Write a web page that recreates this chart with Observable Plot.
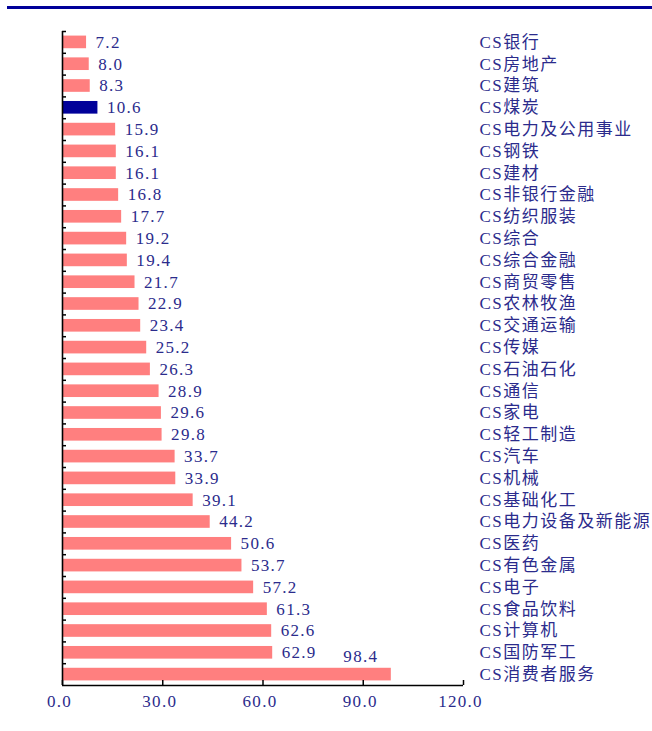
<!DOCTYPE html>
<html>
<head>
<meta charset="utf-8">
<script src="https://cdn.jsdelivr.net/npm/d3@7"></script>
<script src="https://cdn.jsdelivr.net/npm/@observablehq/plot@0.6"></script>
<style>
  html, body { margin: 0; padding: 0; background: #fff; overflow: hidden; }
  #wrap { position: relative; width: 652px; height: 731px; }
  #topline { position: absolute; top: 6px; left: 7px; right: 0; height: 3px; background: #000099; }
</style>
</head>
<body>
<div id="wrap"><div id="topline"></div><div id="chart"></div></div>
<script>
const categories = ["CS银行","CS房地产","CS建筑","CS煤炭","CS电力及公用事业","CS钢铁","CS建材","CS非银行金融","CS纺织服装","CS综合","CS综合金融","CS商贸零售","CS农林牧渔","CS交通运输","CS传媒","CS石油石化","CS通信","CS家电","CS轻工制造","CS汽车","CS机械","CS基础化工","CS电力设备及新能源","CS医药","CS有色金属","CS电子","CS食品饮料","CS计算机","CS国防军工","CS消费者服务"];
const values = [7.2,8.0,8.3,10.6,15.9,16.1,16.1,16.8,17.7,19.2,19.4,21.7,22.9,23.4,25.2,26.3,28.9,29.6,29.8,33.7,33.9,39.1,44.2,50.6,53.7,57.2,61.3,62.6,62.9,98.4];
const highlight = "CS煤炭";
const xTicks = [0, 30, 60, 90, 120];

const data = categories.map((name, i) => ({name, value: values[i]}));
const last = categories[categories.length - 1];

const W = 652, H = 731, mt = 31, mb = 46, ml = 62, mr = 189;
const innerH = H - mt - mb;
const step = innerH / categories.length;
const textColor = "#2b2b8c";
const pink = "#FF7F7F";
const navy = "#000099";
const font = "'Liberation Serif', 'Noto Sans CJK SC', serif";

const chart = Plot.plot({
  width: W, height: H,
  marginTop: mt, marginBottom: mb, marginLeft: ml, marginRight: mr,
  style: {fontFamily: font, fontSize: "16px", color: textColor, background: "transparent", overflow: "visible"},
  x: {domain: [xTicks[0], xTicks[xTicks.length - 1]], axis: null},
  y: {domain: categories, axis: null, paddingInner: 0.42, paddingOuter: 0.21, round: false},
  marks: [
    Plot.barX(data, {filter: d => d.name !== highlight, x: "value", y: "name", fill: pink}),
    Plot.barX(data, {filter: d => d.name === highlight, x: "value", y: "name", fill: navy}),
    // axis lines
    Plot.ruleX([xTicks[0]], {stroke: "#000", strokeWidth: 1.6}),
    Plot.ruleX(xTicks, {x: d => d, insetTop: innerH - 5, stroke: "#000", strokeWidth: 1.5}),
    Plot.ruleY([last], {x1: xTicks[0], x2: xTicks[xTicks.length - 1], dy: step / 2, stroke: "#000", strokeWidth: 1.6}),
    // y ticks at row boundaries
    Plot.ruleY(categories, {y: d => d, x1: xTicks[0], x2: xTicks[0], insetRight: -4, dy: -step / 2, stroke: "#000", strokeWidth: 1.5}),
    // x tick labels
    Plot.text(xTicks, {x: d => d, frameAnchor: "bottom", dy: 21, dx: -3, text: d => d.toFixed(1), fill: textColor, fontSize: 17, className: "num"}),
    // value labels
    Plot.text(data, {filter: d => d.name !== last, x: "value", y: "name", text: d => d.value.toFixed(1), textAnchor: "start", dx: 9, fill: textColor, fontSize: 17, className: "num"}),
    Plot.text(data, {filter: d => d.name === last, x: "value", y: "name", text: d => d.value.toFixed(1), textAnchor: "end", dx: -13, dy: -18, fill: textColor, fontSize: 17, className: "num"}),
    // category labels
    Plot.text(categories, {y: d => d, frameAnchor: "right", textAnchor: "start", dx: 16, text: d => d, fill: textColor, fontSize: 17, className: "cat"})
  ]
});
document.getElementById("chart").appendChild(chart);
chart.querySelectorAll("g.num text").forEach(t => t.setAttribute("letter-spacing", "1.3"));
chart.querySelectorAll("g.cat text").forEach(t => t.setAttribute("letter-spacing", "1.5"));
</script>
</body>
</html>
